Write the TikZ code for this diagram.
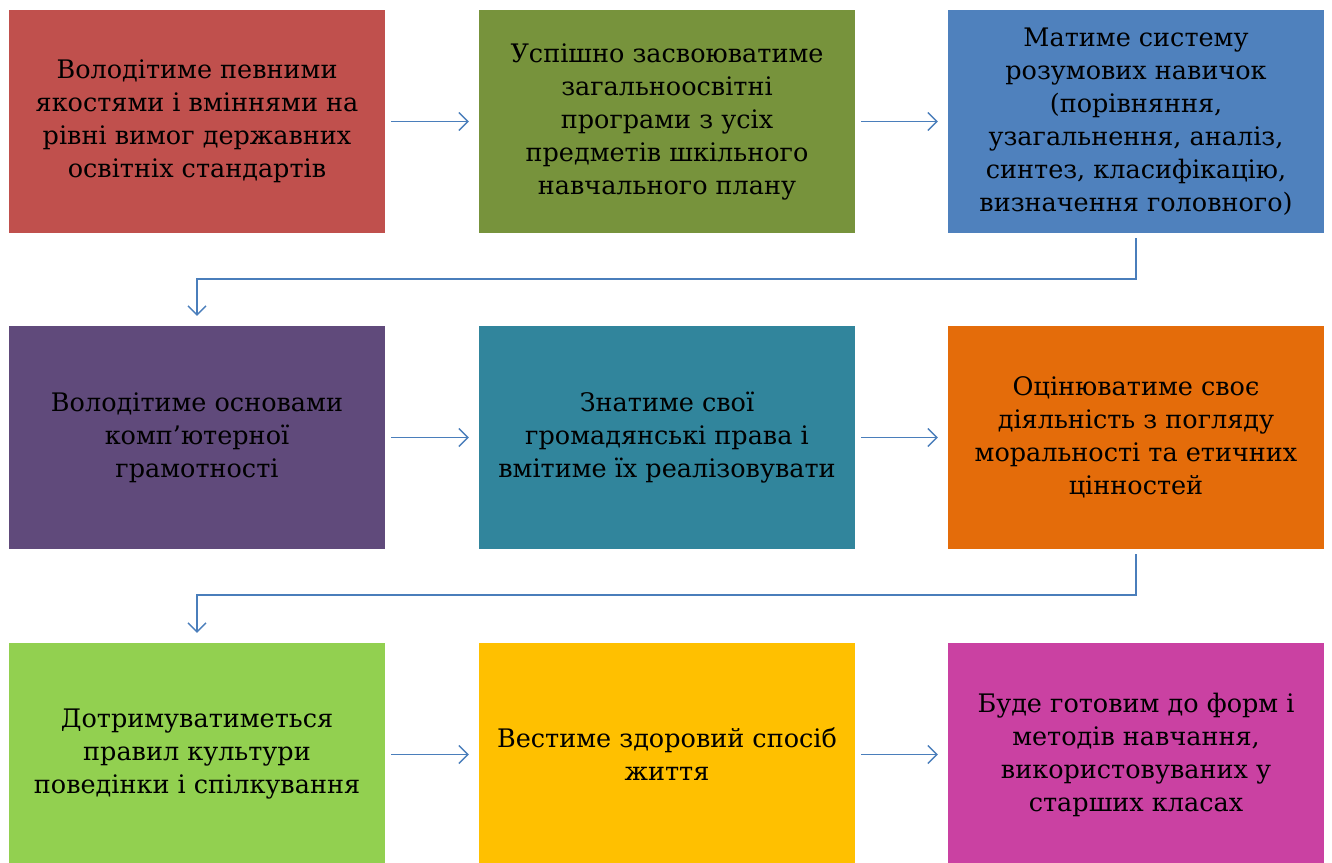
\documentclass[tikz,border=0pt]{standalone}
\usepackage{fontspec}
\setmainfont{DejaVu Serif}
\usepackage{xcolor}
\usepackage{tikz}
\usetikzlibrary{arrows.meta}

\definecolor{c1}{HTML}{C0504D}
\definecolor{c2}{HTML}{77933C}
\definecolor{c3}{HTML}{4F81BD}
\definecolor{c4}{HTML}{604A7B}
\definecolor{c5}{HTML}{31859C}
\definecolor{c6}{HTML}{E46C0A}
\definecolor{c7}{HTML}{92D050}
\definecolor{c8}{HTML}{FFC000}
\definecolor{c9}{HTML}{CA41A2}
\definecolor{linkblue}{HTML}{4A7EBB}

\tikzset{
    box/.style={rectangle, minimum width=376pt, minimum height=223pt, inner sep=0pt,
        align=center, font=\fontsize{25.5}{33}\selectfont},
    flow/.style={draw=linkblue, line width=1.4pt, -{Straight Barb[length=9pt,width=18pt]}}
}

\begin{document}
\begin{tikzpicture}[x=1pt, y=-1pt]
        \useasboundingbox (0,0) rectangle (1332,862);

        \node[box, fill=c1, name=r1c1] at (197,121.5) {Володітиме певними\\якостями і вміннями на\\рівні вимог державних\\освітніх стандартів};
        \node[box, fill=c2, name=r1c2] at (667,121.5) {Успішно засвоюватиме\\загальноосвітні\\програми з усіх\\предметів шкільного\\навчального плану};
        \node[box, fill=c3, name=r1c3] at (1136,121.5) {Матиме систему\\розумових навичок\\(порівняння,\\узагальнення, аналіз,\\синтез, класифікацію,\\визначення головного)};

        \node[box, fill=c4, name=r2c1] at (197,437.5) {Володітиме основами\\комп’ютерної\\грамотності};
        \node[box, fill=c5, name=r2c2] at (667,437.5) {Знатиме свої\\громадянські права і\\вмітиме їх реалізовувати};
        \node[box, fill=c6, name=r2c3] at (1136,437.5) {Оцінюватиме своє\\діяльність з погляду\\моральності та етичних\\цінностей};

        \node[box, fill=c7, name=r3c1] at (197,754.5) {Дотримуватиметься\\правил культури\\поведінки і спілкування};
        \node[box, fill=c8, name=r3c2] at (667,754.5) {Вестиме здоровий спосіб\\життя};
        \node[box, fill=c9, name=r3c3] at (1136,754.5) {Буде готовим до форм і\\методів навчання,\\використовуваних у\\старших класах};

        \coordinate (turn1) at (667,279);
        \coordinate (turn2) at (667,595);

        \path[every edge/.style={flow, shorten <=6pt, shorten >=10pt}]
            (r1c1.east) edge (r1c2.west)
            (r1c2.east) edge (r1c3.west)
            (r2c1.east) edge (r2c2.west)
            (r2c2.east) edge (r2c3.west)
            (r3c1.east) edge (r3c2.west)
            (r3c2.east) edge (r3c3.west);

        \draw[flow, shorten <=5pt, shorten >=10pt] (r1c3.south) |- (turn1) -| (r2c1.north);
        \draw[flow, shorten <=5pt, shorten >=10pt] (r2c3.south) |- (turn2) -| (r3c1.north);
    \end{tikzpicture}
\end{document}
